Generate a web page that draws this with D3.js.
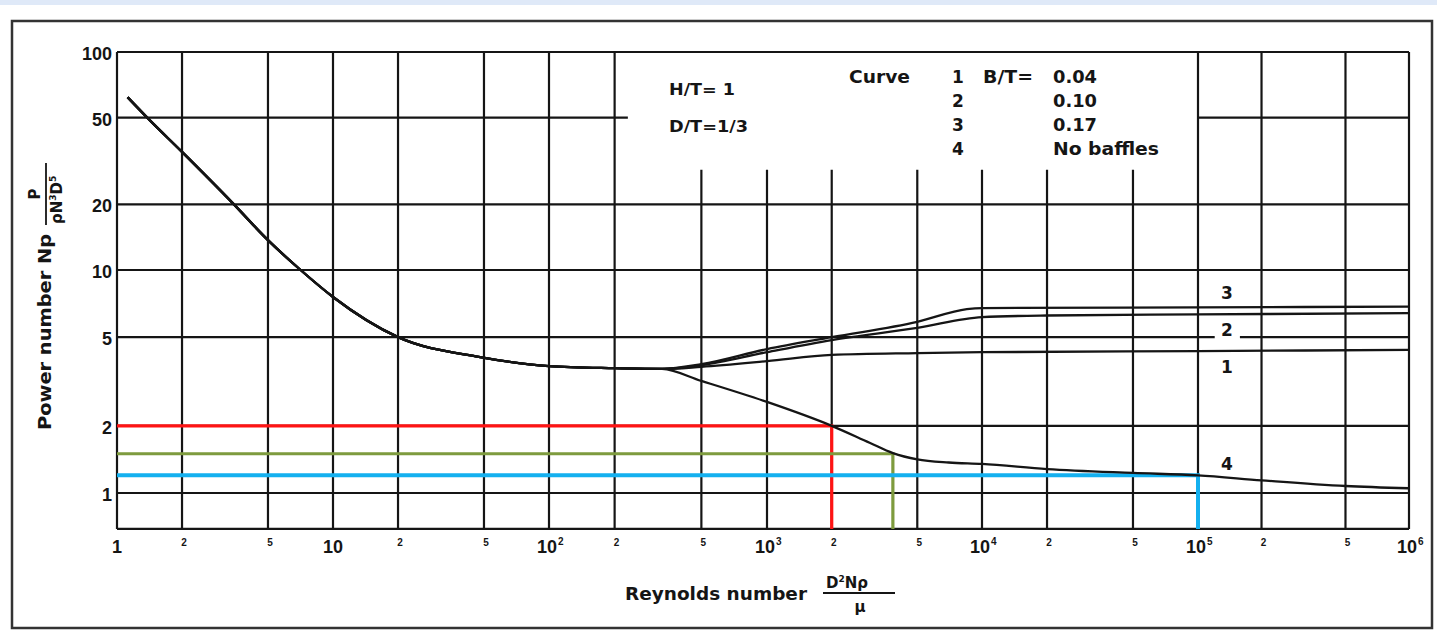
<!DOCTYPE html>
<html><head><meta charset="utf-8">
<script src="https://cdn.jsdelivr.net/npm/d3@7"></script>
<style>
body{margin:0;background:#fff;}
svg{display:block;}
</style>
</head><body>
<svg id="chart" width="1437" height="631"></svg>
<script>
// ---------- DATA ----------
const xMajorTicks = [1, 10, 100, 1000, 1e4, 1e5, 1e6];
const xMajorExp   = ["", "", "2", "3", "4", "5", "6"];
const xMajorBase  = ["1", "10", "10", "10", "10", "10", "10"];
const xMinorTicks = [2, 5, 20, 50, 200, 500, 2000, 5000, 2e4, 5e4, 2e5, 5e5];
const xMinorLabels = ["2", "5", "2", "5", "2", "5", "2", "5", "2", "5", "2", "5"];
const yTicks = [1, 2, 5, 10, 20, 50, 100];
const yTickLabels = ["1", "2", "5", "10", "20", "50", "100"];
const yAxisMin = 0.69;

// shared laminar / transition part (all curves)
const reShared = [1.12, 1.38, 2, 3.46, 5, 7.08, 10, 20, 48, 100, 200, 330];
const npShared = [62, 50, 34.8, 20.1, 13.7, 10, 7.57, 5.0, 4.07, 3.71, 3.63, 3.6];
// branches after the fork
const reCurve1 = [500, 1000, 2000, 5000, 1e4, 1e5, 1e6];
const npCurve1 = [3.68, 3.9, 4.16, 4.24, 4.28, 4.33, 4.38];
const reCurve2 = [500, 1000, 2000, 5000, 1e4, 2e4, 1e5, 1e6];
const npCurve2 = [3.74, 4.28, 4.85, 5.5, 6.15, 6.25, 6.32, 6.4];
const reCurve3 = [500, 1000, 2000, 5000, 8500, 1e4, 1e5, 1e6];
const npCurve3 = [3.78, 4.42, 5.0, 5.85, 6.68, 6.75, 6.8, 6.85];
const reCurve4 = [500, 1000, 2000, 3000, 3850, 5000, 7000, 1e4, 2e4, 5e4, 1e5, 2e5, 5e5, 1e6];
const npCurve4 = [3.18, 2.56, 2.0, 1.68, 1.51, 1.415, 1.37, 1.35, 1.28, 1.23, 1.20, 1.14, 1.075, 1.05];

// highlighted read-off lines
const refNp = [2.0, 1.5, 1.2];
const refRe = [2000, 3850, 1e5];

// legend
const curveIds = ["1", "2", "3", "4"];
const btValues = ["0.04", "0.10", "0.17", "No baffles"];
const conditions = ["H/T= 1", "D/T=1/3"];

// text box region (Re from..to, Np down to)
const boxReFrom = 200, boxReTo = 1e5, boxNpBottom = 28.8;
const line50ReEnd = 230;

// ---------- STYLE ----------
const refColors = ["#ff1414", "#7e9b3e", "#14b0ef"];
const ink = "#151515";
const sansWide = "'DejaVu Sans', sans-serif";
const sans = "'Liberation Sans', Arial, sans-serif";

// ---------- DRAW ----------
const svg = d3.select("#chart");
// printed log paper: decades are not perfectly equal, so use a piecewise log scale
const x = d3.scaleLog().domain(xMajorTicks).range([117, 333, 549, 767, 982, 1198, 1409]);
const y = d3.scaleLog().domain([1, 10, 100]).range([493, 270, 52]);

svg.append("rect").attr("width", 1437).attr("height", 631).attr("fill", "#fff");
svg.append("rect").attr("x", 0).attr("y", 0).attr("width", 1437).attr("height", 5).attr("fill", "#dfe9f8");
// outer frame
svg.append("rect").attr("x", 12).attr("y", 21).attr("width", 1420).attr("height", 607)
  .attr("fill", "none").attr("stroke", "#333").attr("stroke-width", 2.5);

const grid = svg.append("g").attr("stroke", ink).attr("stroke-width", 2.2).attr("fill", "none");
const allX = xMajorTicks.concat(xMinorTicks);
allX.forEach(v => {
  const top = (v > boxReFrom && v < boxReTo) ? y(boxNpBottom) : y(100);
  grid.append("line").attr("x1", x(v)).attr("x2", x(v)).attr("y1", top).attr("y2", y(yAxisMin));
});
yTicks.forEach(v => {
  let segs = [[1, 1e6]];
  if (v === 50) segs = [[1, line50ReEnd], [boxReTo, 1e6]];
  if (v === 5) segs = [[1, 1.2e5], [1.58e5, 1e6]];
  segs.forEach(s => grid.append("line").attr("x1", x(s[0])).attr("x2", x(s[1])).attr("y1", y(v)).attr("y2", y(v)));
});
grid.append("line").attr("x1", x(1)).attr("x2", x(1e6)).attr("y1", y(yAxisMin)).attr("y2", y(yAxisMin));

// coloured reference lines
const refG = svg.append("g").attr("fill", "none");
refNp.forEach((np, i) => {
  const p = d3.path();
  p.moveTo(x(1), y(np));
  p.lineTo(x(refRe[i]), y(np));
  p.lineTo(x(refRe[i]), y(yAxisMin));
  refG.append("path").attr("d", p.toString()).attr("stroke", refColors[i])
    .attr("stroke-width", i === 2 ? 4 : 3.2);
});

// curves
const shared = reShared.map((r, i) => [r, npShared[i]]);
const branches = [[reCurve1, npCurve1], [reCurve2, npCurve2], [reCurve3, npCurve3], [reCurve4, npCurve4]];
const lineGen = d3.line().x(d => x(d[0])).y(d => y(d[1])).curve(d3.curveMonotoneX);
branches.forEach(b => {
  const pts = shared.concat(b[0].map((r, i) => [r, b[1][i]]));
  svg.append("path").attr("d", lineGen(pts)).attr("fill", "none")
    .attr("stroke", ink).attr("stroke-width", 2.3);
});

// ---------- TEXT ----------
function txt(g, s, px, py, o) {
  o = o || {};
  const t = g.append("text").attr("x", px).attr("y", py)
    .attr("font-family", o.family || sansWide)
    .attr("font-size", o.size || 17)
    .attr("font-weight", o.weight || "bold")
    .attr("fill", ink)
    .attr("text-anchor", o.anchor || "start")
    .text(s);
  if (o.len) t.attr("textLength", o.len).attr("lengthAdjust", "spacingAndGlyphs");
  return t;
}
const tg = svg.append("g");

// y tick labels
yTicks.forEach((v, i) => txt(tg, yTickLabels[i], 112, y(v) + 8, {family: sans, size: 18, anchor: "end"}));
// x tick labels
xMajorTicks.forEach((v, i) => {
  txt(tg, xMajorBase[i], x(v) - (xMajorExp[i] ? 2 : 0), 553, {family: sans, size: 18, anchor: "middle"});
  if (xMajorExp[i]) txt(tg, xMajorExp[i], x(v) + 9, 545, {family: sans, size: 10});
});
xMinorTicks.forEach((v, i) => txt(tg, xMinorLabels[i], x(v) + 2, 546, {family: sans, size: 10, anchor: "middle"}));

// axis titles
txt(tg, "Reynolds number", 625, 600, {size: 17, len: 182});
tg.append("line").attr("x1", 823).attr("x2", 895).attr("y1", 593).attr("y2", 593)
  .attr("stroke", ink).attr("stroke-width", 1.8);
const num = txt(tg, "D", 826, 588, {size: 15});
num.append("tspan").attr("font-size", 9).attr("dy", -6).text("2");
num.append("tspan").attr("font-size", 15).attr("dy", 6).text("N\u03C1");
txt(tg, "\u03BC", 860, 612, {size: 15, anchor: "middle"});

const ya = tg.append("g").attr("transform", "translate(51,332) rotate(-90)");
txt(ya, "Power number Np", 0, 0, {size: 17, anchor: "middle", len: 196});
const yf = tg.append("g").attr("transform", "translate(46,194) rotate(-90)");
yf.append("line").attr("x1", -31).attr("x2", 31).attr("y1", 0).attr("y2", 0).attr("stroke", ink).attr("stroke-width", 1.8);
txt(yf, "P", 0, -6, {size: 15, anchor: "middle"});
const den = txt(yf, "\u03C1N", -30, 16, {size: 15});
den.append("tspan").attr("font-size", 9).attr("dy", -6).text("3");
den.append("tspan").attr("font-size", 15).attr("dy", 6).text("D");
den.append("tspan").attr("font-size", 9).attr("dy", -6).text("5");

// legend box text
txt(tg, conditions[0], 669, 95, {size: 16, len: 66});
txt(tg, conditions[1], 669, 132, {size: 16, len: 79});
txt(tg, "Curve", 849, 83, {size: 17, len: 61});
txt(tg, "B/T=", 983, 83, {size: 17, len: 50});
curveIds.forEach((c, i) => {
  const by = 83 + i * 24;
  txt(tg, c, 958, by, {size: 17, anchor: "middle"});
  txt(tg, btValues[i], 1053, by, {size: 17, len: i === 3 ? 106 : 44});
});

// curve end labels
const labelRe = 1.37e5;
const labelNp = [7.95, 5.45, 3.7, 1.36];
const labelIds = ["3", "2", "1", "4"];
labelIds.forEach((c, i) => txt(tg, c, x(labelRe), y(labelNp[i]) + 7, {size: 17, anchor: "middle"}));
</script>
</body></html>
